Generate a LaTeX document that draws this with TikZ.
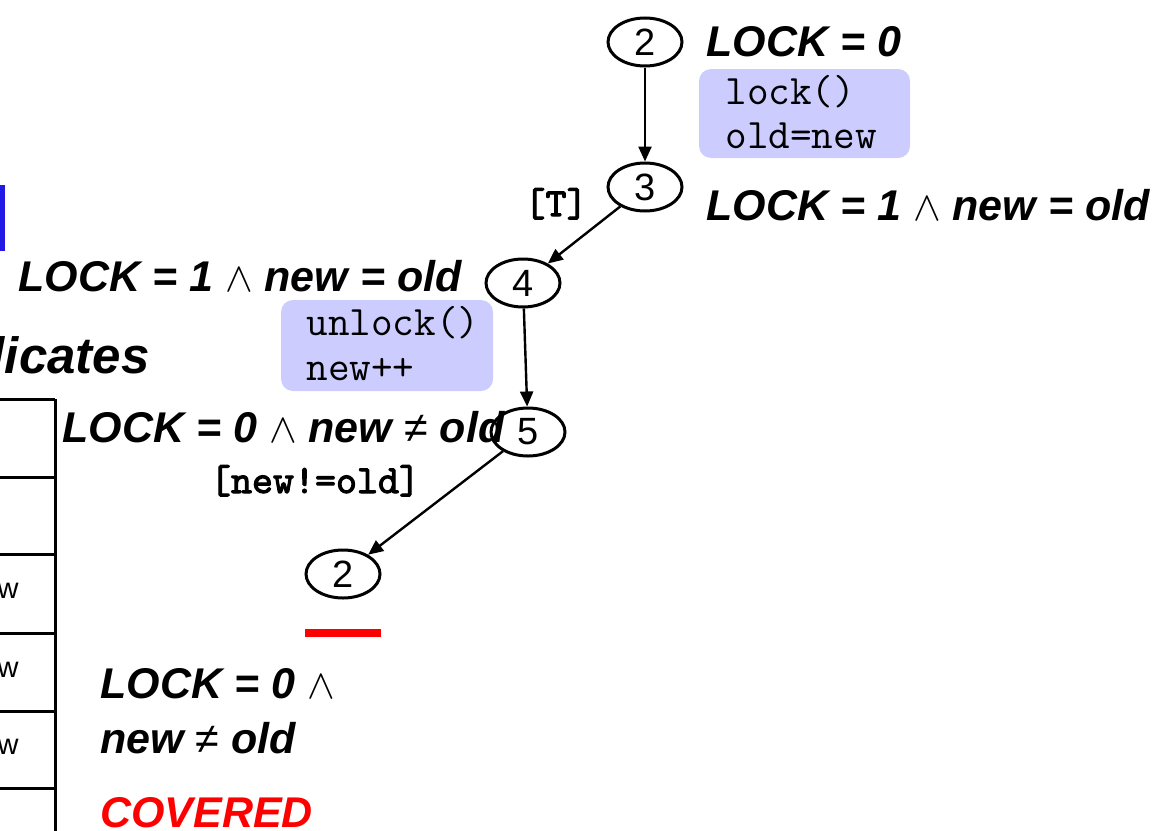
\documentclass[tikz,border=0pt]{standalone}
\usepackage{fontspec}
\setmainfont{Liberation Sans}
\newfontfamily\guardfont{lmmono10-regular.otf}[FakeBold=2.5]
\usetikzlibrary{shapes.geometric,arrows.meta}
\newcommand{\neqsign}{{\normalfont ≠}}

\begin{document}
\begin{tikzpicture}[x=0.5pt,y=-0.5pt,
  loc/.style={ellipse,draw,line width=1.5pt,minimum width=37pt,minimum height=24pt,inner sep=0pt,font=\fontsize{19}{19}\selectfont},
  pred/.style={anchor=base west,inner sep=0pt,font=\fontsize{21.5}{26}\selectfont\bfseries\itshape},
  stmt/.style={anchor=base west,inner sep=0pt,font=\ttfamily\fontsize{21}{22}\selectfont},
  guard/.style={anchor=base,inner sep=0pt,font=\guardfont\fontsize{20}{20}\selectfont},
  flow/.style={line width=1.2pt,-{Triangle[length=7.5pt,width=6.5pt]}},
  rule/.style={line width=1.5pt},
  cell/.style={anchor=base east,inner sep=0pt,font=\fontsize{14.5}{15}\selectfont}]
\definecolor{lavender}{HTML}{CCCCFF}
\definecolor{slideblue}{HTML}{2319E6}
\useasboundingbox (0,0) rectangle (1165,830);
\clip (0,0) rectangle (1165,830);

% table at the left edge
\foreach \y in {399,477,554,633,711,788}
  {\draw[rule] (0,\y) -- (55,\y);}
\draw[rule] (55,399) -- (55,835);
\foreach \y in {598,677,754}
  {\node[cell] (w\y) at (19,\y) {new};}
\fill[slideblue] (0,185) rectangle (5,251);
\node[pred,anchor=base east,font=\fontsize{25.5}{30}\selectfont\bfseries\itshape] (heading) at (150,373) {Predicates};

% statement boxes
\fill[lavender,rounded corners=6pt] (699,69) rectangle (910,158);
\fill[lavender,rounded corners=6pt] (281,300) rectangle (493,391);
\node[stmt] (lk) at (725,104) {lock()};
\node[stmt] (on) at (725,148) {old=new};
\node[stmt] (ulk) at (306,335) {unlock()};
\node[stmt] (inc) at (306,380) {new++};

% locations
\node[loc] (n2) at (645,42) {2};
\node[loc] (n3) at (645,187) {3};
\node[loc] (n4) at (523,283) {4};
\node[loc] (n5) at (528,432) {5};
\node[loc] (n2c) at (343,574) {2};
\fill[red] (305,629) rectangle (381,637);

\draw[flow] (n2) -- (n3);
\draw[flow] (n3) -- (n4);
\draw[flow] (n4) -- (n5);
\draw[flow] (n5) -- (n2c);
\node[guard] (gT) at (556,216) {[T]};
\node[guard] (gne) at (315,493) {[new!=old]};

% region predicates
\node[pred] (p2) at (706,56) {LOCK = 0};
\node[pred] (p3) at (706,220) {LOCK = 1 $\wedge$ new = old};
\node[pred] (p4) at (18,291) {LOCK = 1 $\wedge$ new = old};
\node[pred] (p5) at (62,442) {LOCK = 0 $\wedge$ new \neqsign{} old};
\node[pred] (pc1) at (100,698) {LOCK = 0 $\wedge$};
\node[pred] (pc2) at (100,753) {new \neqsign{} old};
\node[pred,text=red] (cov) at (100,827) {COVERED};
\end{tikzpicture}
\end{document}
